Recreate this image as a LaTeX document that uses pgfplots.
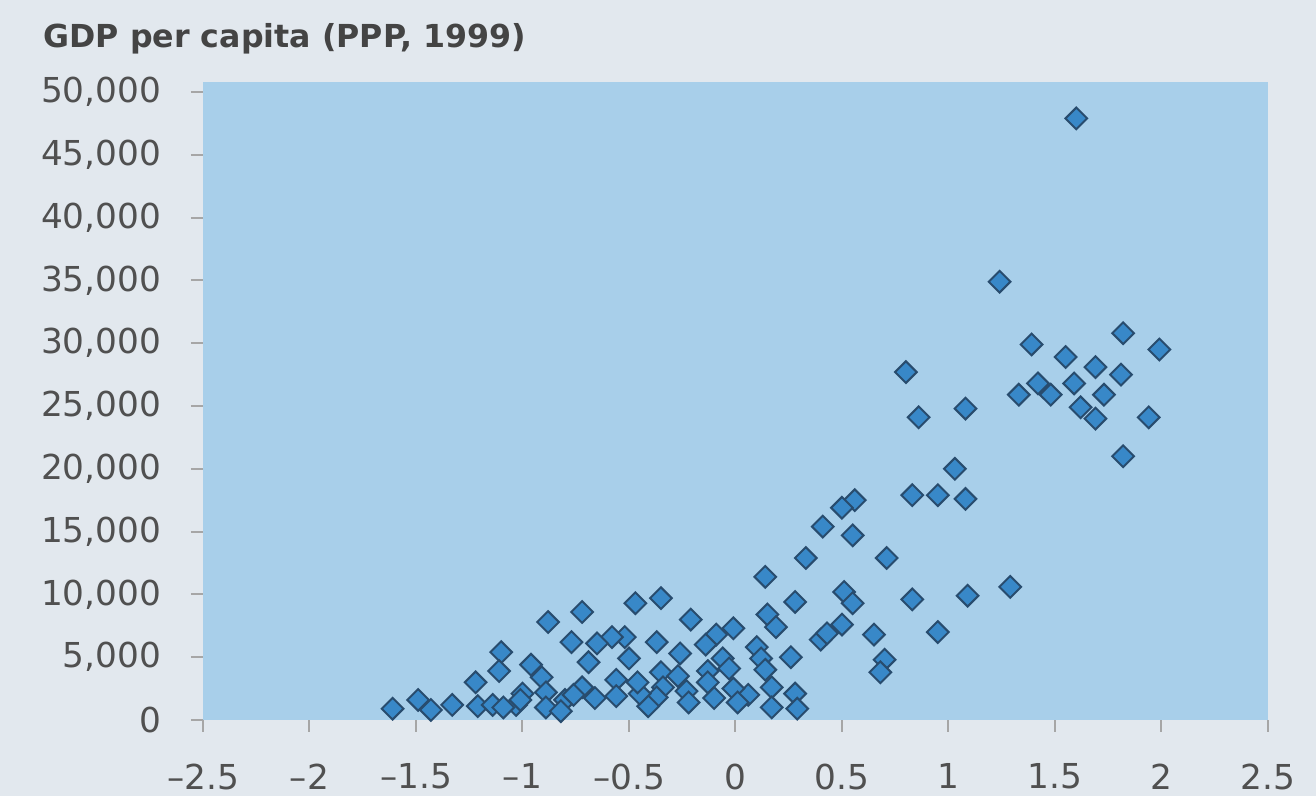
\documentclass[border=0pt]{standalone}
\usepackage{fontspec}
\setmainfont{DejaVu Sans}
\usepackage{pgfplots}
\pgfplotsset{compat=1.18}
\usepackage{pgfplotstable}
\definecolor{pagebg}{RGB}{226,232,238}
\definecolor{plotbg}{RGB}{168,207,234}
\definecolor{markfill}{RGB}{56,136,200}
\definecolor{markedge}{RGB}{40,76,110}
\definecolor{txt}{RGB}{80,80,80}
\pgfplotstableread{
x y
1.60 47900
1.24 34900
0.80 27700
0.86 24100
1.08 24800
1.03 20000
1.08 17600
0.83 17900
0.95 17900
0.83 9600
1.09 9900
0.95 7000
1.29 10600
1.39 29900
1.82 30800
1.99 29500
1.33 25900
1.42 26800
1.48 25900
1.55 28900
1.59 26800
1.62 24900
1.69 28100
1.69 24000
1.73 25900
1.81 27500
1.94 24100
1.82 21000
0.56 17500
0.50 16900
0.41 15400
0.55 14700
0.33 12900
0.71 12900
0.14 11400
0.28 9400
0.51 10200
0.55 9300
0.15 8400
0.19 7400
0.50 7600
0.40 6400
0.43 6900
0.65 6800
0.70 4800
0.68 3800
0.10 5800
0.12 4900
0.14 4000
0.26 5000
0.17 2600
0.28 2100
0.17 1000
0.29 900
0.06 2000
-0.01 7300
-0.09 6800
-0.14 6000
-0.06 4900
-0.03 4100
-0.13 3900
-0.13 3000
-0.01 2500
-0.10 1750
0.01 1400
-0.21 8000
-0.26 5300
-0.35 9700
-0.37 6200
-0.35 3800
-0.27 3500
-0.34 2600
-0.23 2300
-0.22 1400
-0.37 1800
-0.41 1100
-0.45 2100
-0.46 3000
-0.56 3200
-0.56 1900
-0.47 9300
-0.50 4900
-0.52 6600
-0.58 6600
-0.65 6100
-0.69 4600
-0.72 8600
-0.77 6200
-0.72 2600
-0.80 1600
-0.88 7800
-0.96 4400
-0.91 3400
-1.00 2100
-0.89 2200
-0.89 1000
-0.82 700
-1.03 1200
-1.10 5400
-1.11 3900
-1.22 3000
-1.21 1100
-1.14 1200
-1.09 1000
-1.33 1200
-1.43 800
-1.49 1600
-1.61 900
-0.66 1750
-0.76 2000
-1.01 1600
}\gdpdata
\begin{document}
\begin{tikzpicture}
\fill[pagebg] (0,0) rectangle (394.8pt,238.8pt);
\node[anchor=base west, inner sep=0pt, text=txt!85!black, font=\bfseries\fontsize{9.5}{11}\selectfont] at (12.9pt,224.4pt) {GDP per capita (PPP, 1999)};
\begin{axis}[
  at={(60.9pt,22.8pt)}, anchor=south west,
  scale only axis, width=319.5pt, height=191.4pt,
  xmin=-2.5, xmax=2.5, ymin=0, ymax=50800,
  axis line style={draw=none},
  axis background/.style={fill=plotbg},
  tick align=outside, major tick length=3.6pt,
  tick style={draw=gray!70, line width=0.6pt},
  xtick pos=bottom, ytick pos=left,
  xtick={-2.5,-2,-1.5,-1,-0.5,0,0.5,1,1.5,2,2.5},
  xticklabels={–2.5,–2,–1.5,–1,–0.5,0,0.5,1,1.5,2,2.5},
  ytick={0,5000,10000,15000,20000,25000,30000,35000,40000,45000,50000},
  yticklabels={0,{5,000},{10,000},{15,000},{20,000},{25,000},{30,000},{35,000},{40,000},{45,000},{50,000}},
  scaled y ticks=false,
  tick label style={text=txt, font=\fontsize{10.3}{12}\selectfont},
  y tick label style={xshift=-5.4pt},
  x tick label style={yshift=-6pt},
  clip=false,
]
\addplot[only marks, mark=square*, mark size=2.3pt,
  mark options={fill=markfill, draw=markedge, line width=0.6pt, rotate=45}]
  table[x=x,y=y]{\gdpdata};
\end{axis}
\pgfresetboundingbox
\path[use as bounding box] (0,0) rectangle (394.8pt,238.8pt);
\end{tikzpicture}
\end{document}
